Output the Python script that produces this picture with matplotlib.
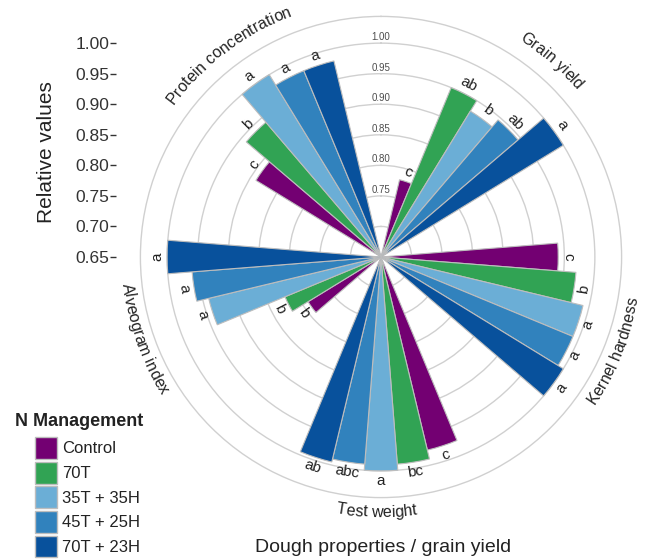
"""
Polar bar chart: relative dough properties / grain yield by N management.
"""

import numpy as np
import matplotlib
matplotlib.use("Agg")
import matplotlib.pyplot as plt
from matplotlib.patches import Patch
from matplotlib.font_manager import FontProperties, findfont
from matplotlib.ft2font import FT2Font

plt.rcParams["font.family"] = ["Liberation Sans", "DejaVu Sans"]

# ---- data ----
categories = ["Grain yield", "Kernel hardness", "Test weight",
              "Alveogram index", "Protein concentration"]
treatments = ["Control", "70T", "35T + 35H", "45T + 25H", "70T + 23H"]
colors = ["#730072", "#31a354", "#6baed6", "#3182bd", "#08519c"]

control = [0.78, 0.94, 0.975, 0.79, 0.89]
t70 = [0.95, 0.97, 0.99, 0.82, 0.94]
t35_35 = [0.93, 0.99, 1.00, 0.94, 1.00]
t45_25 = [0.945, 0.99, 0.99, 0.96, 0.98]
t70_23 = [1.00, 1.00, 0.995, 1.00, 0.98]

let_control = ["c", "c", "c", "b", "c"]
let_70 = ["ab", "b", "bc", "b", "b"]
let_35_35 = ["b", "a", "a", "a", "a"]
let_45_25 = ["ab", "a", "abc", "a", "a"]
let_70_23 = ["a", "a", "ab", "a", "a"]

ring_ticks = [0.70, 0.75, 0.80, 0.85, 0.90, 0.95, 1.00]
inner_labels = [0.75, 0.80, 0.85, 0.90, 0.95, 1.00]
axis_ticks = [0.65, 0.70, 0.75, 0.80, 0.85, 0.90, 0.95, 1.00]

series = [control, t70, t35_35, t45_25, t70_23]
letters = [let_control, let_70, let_35_35, let_45_25, let_70_23]

# ---- geometry ----
W, H, DPI = 646, 559, 100
R0, RMAX = 0.65, 1.04375
CX, CY = 381, 257          # centre in pixels (from top)
RPX = 240.6                # outer circle radius in pixels
PPU = RPX / (RMAX - R0)    # pixels per unit value

fig = plt.figure(figsize=(W / DPI, H / DPI), dpi=DPI)
ax = fig.add_axes([(CX - RPX) / W, (H - CY - RPX) / H, 2 * RPX / W, 2 * RPX / H],
                  projection="polar")
ax.set_theta_zero_location("N")
ax.set_theta_direction(-1)
ax.set_ylim(R0, RMAX)
ax.set_xticks([])
ax.set_yticks(ring_ticks)
ax.set_yticklabels([])
ax.yaxis.grid(True, color="#d0d0d0", linewidth=1.0)
ax.xaxis.grid(False)
ax.spines["polar"].set_color("#d0d0d0")
ax.spines["polar"].set_linewidth(1.0)
ax.tick_params(axis="y", length=0)

n_cat = len(categories)
sector = 360.0 / n_cat
bar_w = 9.0  # degrees per bar


def is_top(theta):
    theta = theta % 360
    return theta <= 90 or theta >= 270


for j, (vals, labs, col) in enumerate(zip(series, letters, colors)):
    thetas = np.array([sector * i + sector / 2 + (j - 2) * bar_w for i in range(n_cat)])
    vals = np.array(vals)
    ax.bar(np.radians(thetas), vals - R0, bottom=R0, width=np.radians(bar_w),
           color=col, edgecolor="#bdbdbd", linewidth=0.8, zorder=3)
    for th, v, lab in zip(thetas, vals, labs):
        rot = -th if is_top(th) else 180 - th
        ax.text(np.radians(th), v + 10 / PPU, lab, fontsize=11, color="#222222",
                ha="center", va="center", rotation=rot, rotation_mode="anchor",
                zorder=4)

# labels of the rings along the top
for v in inner_labels:
    ax.text(0, v + 6 / PPU, f"{v:.2f}", fontsize=7, color="#4d4d4d",
            ha="center", va="center", zorder=2)


# curved category labels (one glyph at a time along the arc)
def curved_text(s, theta_c, size):
    prop = FontProperties(family="Liberation Sans", size=size)
    font = FT2Font(findfont(prop))
    font.set_size(size, 72)
    scale = DPI / 72.0
    adv = [font.load_char(ord(ch)).linearHoriAdvance / 65536 * scale for ch in s]
    total = sum(adv)
    top = is_top(theta_c)
    rb = 257 if top else 260
    x = -total / 2
    for ch, a in zip(s, adv):
        start = x
        x += a
        if ch == " ":
            continue
        dth = np.degrees(start / rb)
        th = theta_c + dth if top else theta_c - dth
        mid = theta_c + np.degrees((start + a / 2) / rb) if top else \
            theta_c - np.degrees((start + a / 2) / rb)
        rot = -mid if top else 180 - mid
        ax.text(np.radians(th), R0 + rb / PPU, ch, fontsize=size, color="#222222",
                ha="left", va="baseline", rotation=rot, rotation_mode="anchor",
                clip_on=False)


label_shift = [5, 4, 1, -1, -1]
for i, cat in enumerate(categories):
    curved_text(cat, sector * i + sector / 2 + label_shift[i], 11.5)

# radial axis on the left
lax = fig.add_axes([116 / W, (H - CY) / H, 0.0001, RPX / H])
lax.set_ylim(R0, RMAX)
lax.set_yticks(axis_ticks)
lax.set_yticklabels([f"{t:.2f}" for t in axis_ticks])
lax.set_xticks([])
for sp in lax.spines.values():
    sp.set_visible(False)
lax.patch.set_visible(False)
lax.tick_params(axis="y", length=4, width=1, color="#333333", labelsize=12.5,
                labelcolor="#333333", pad=1)
fig.text(47 / W, 1 - 152 / H, "Relative values", rotation=90, fontsize=15,
         color="#222222", ha="center", va="center")

fig.text(383 / W, 1 - 548 / H, "Dough properties / grain yield", fontsize=14,
         color="#222222", ha="center", va="center")

# legend
fig.text(15 / W, 1 - 422 / H, "N Management", fontsize=13, fontweight="bold",
         color="#222222", ha="left", va="center")
handles = [Patch(facecolor=c, edgecolor="#bdbdbd", linewidth=1.0, label=t)
           for c, t in zip(colors, treatments)]
fig.legend(handles=handles, loc="upper left", bbox_to_anchor=(35 / W, 1 - 437 / H),
           frameon=False, fontsize=12, handlelength=1.32, handleheight=1.65,
           labelspacing=0.16, handletextpad=0.3, borderpad=0, borderaxespad=0,
           labelcolor="#222222")

fig.savefig("out.png", dpi=DPI, facecolor="white")
